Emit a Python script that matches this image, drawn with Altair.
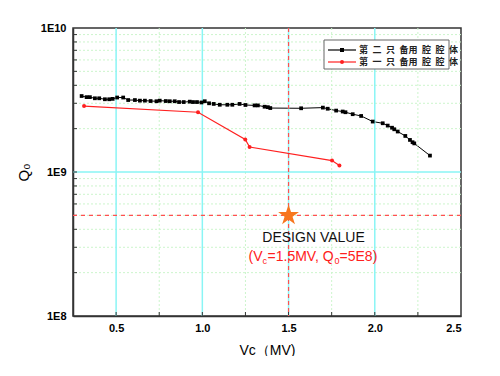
import altair as alt
import pandas as pd

# ---- data ----
vc_black = [0.300, 0.329, 0.348, 0.377, 0.402, 0.435, 0.460, 0.480, 0.506, 0.541,
            0.570, 0.609, 0.638, 0.667, 0.700, 0.734, 0.753, 0.788, 0.811, 0.840,
            0.865, 0.892, 0.927, 0.946, 0.969, 0.995, 1.014, 1.039, 1.066, 1.101,
            1.145, 1.174, 1.216, 1.250, 1.303, 1.322, 1.361, 1.380, 1.394, 1.573,
            1.699, 1.727, 1.776, 1.814, 1.830, 1.872, 1.921, 1.988, 2.046, 2.075,
            2.100, 2.113, 2.133, 2.177, 2.204, 2.219, 2.229, 2.320]
q0_black = [3.37, 3.31, 3.31, 3.25, 3.25, 3.20, 3.20, 3.22, 3.29, 3.29,
            3.16, 3.16, 3.13, 3.13, 3.11, 3.10, 3.13, 3.11, 3.10, 3.10,
            3.06, 3.06, 3.08, 3.06, 3.06, 3.04, 3.10, 3.00, 2.97, 2.93,
            2.93, 2.93, 2.97, 2.92, 2.90, 2.90, 2.84, 2.82, 2.78, 2.77,
            2.80, 2.75, 2.67, 2.63, 2.60, 2.52, 2.45, 2.24, 2.18, 2.10,
            2.03, 1.98, 1.91, 1.78, 1.67, 1.61, 1.58, 1.30]  # x 1e9
vc_red = [0.314, 0.975, 1.249, 1.274, 1.752, 1.795]
q0_red = [2.87, 2.60, 1.68, 1.49, 1.20, 1.11]  # x 1e9

series_names = ["第 二 只 备用 腔 腔 体", "第 一 只 备用 腔 腔 体"]
series_colors = ["#000000", "#ff2020"]

x_major = [0.5, 1.0, 1.5, 2.0]
x_minor = [0.75, 1.25, 1.75, 2.25]
x_labels = [0.5, 1.0, 1.5, 2.0, 2.5]
y_labels = [1e8, 1e9, 1e10]
y_major = [1e9]
y_minor = [m * d for d in (1e8, 1e9) for m in range(2, 10)]

design_vc = 1.5
design_q0 = 5e8
design_title = "DESIGN VALUE"
design_parts = ["(V", "c", "=1.5MV, Q", "0", "=5E8)"]

FONT = "Liberation Sans"
CJK = "Noto Sans CJK SC"
STAR = ("M0,-1L0.225,-0.309L0.951,-0.309L0.363,0.118L0.588,0.809L0,0.382"
        "L-0.588,0.809L-0.363,0.118L-0.951,-0.309L-0.225,-0.309Z")

df_black = pd.DataFrame({"vc": vc_black, "q": [v * 1e9 for v in q0_black],
                         "i": range(len(vc_black))})
df_red = pd.DataFrame({"vc": vc_red, "q": [v * 1e9 for v in q0_red],
                       "i": range(len(vc_red))})

xs = alt.Scale(domain=[0.25, 2.5], nice=False, zero=False)
ys = alt.Scale(type="log", domain=[1e8, 1e10], nice=False)

W, H = 388, 288

x_axis = alt.Axis(values=x_labels, format=".1f", ticks=False, grid=False,
                  labelFont=FONT, labelFontWeight="bold", labelFontSize=11,
                  labelColor="#000", labelPadding=6, titleFont=FONT,
                  titleFontSize=14, titleFontWeight="normal", titleColor="#000",
                  titlePadding=10, domainColor="#333", domainWidth=1.5)
y_axis = alt.Axis(values=y_labels, ticks=False, grid=False,
                  labelExpr="'1E' + format(round(log(datum.value)/log(10)), 'd')",
                  labelFont=FONT, labelFontWeight="bold", labelFontSize=11,
                  labelColor="#000", labelPadding=7, titleFont=FONT,
                  titleFontSize=15, titleFontWeight="normal", titleColor="#000",
                  titlePadding=9, domainColor="#333", domainWidth=1.5)


def X():
    return alt.X("vc:Q", scale=xs, title="Vc（MV)", axis=x_axis)


def Y():
    return alt.Y("q:Q", scale=ys, title="Q₀", axis=y_axis)


# grids
vgrid_minor = alt.Chart(pd.DataFrame({"vc": x_minor})).mark_rule(
    color="#ccf5cc", strokeWidth=1, strokeDash=[2, 2]).encode(x=X())
hgrid_minor = alt.Chart(pd.DataFrame({"q": y_minor})).mark_rule(
    color="#ccf5cc", strokeWidth=1, strokeDash=[2, 2]).encode(y=Y())
vgrid_major = alt.Chart(pd.DataFrame({"vc": x_major})).mark_rule(
    color="#8af5f5", strokeWidth=1.5).encode(x=X())
hgrid_major = alt.Chart(pd.DataFrame({"q": y_major})).mark_rule(
    color="#8af5f5", strokeWidth=1.5).encode(y=Y())

# inward ticks
xticks = alt.Chart(pd.DataFrame({"vc": x_major + x_minor})).mark_rule(
    color="#333333", strokeWidth=1).encode(x=X(), y=alt.value(H), y2=alt.value(H - 4))
yticks = alt.Chart(pd.DataFrame({"q": y_minor + y_major})).mark_rule(
    color="#333333", strokeWidth=1).encode(y=Y(), x=alt.value(0), x2=alt.value(4))

# design reference lines
design_df = pd.DataFrame({"vc": [design_vc], "q": [design_q0]})
hline = alt.Chart(design_df).mark_rule(
    color="#ff5050", strokeWidth=1.2, strokeDash=[4, 4]).encode(y=Y())
vline = alt.Chart(design_df).mark_rule(
    color="#ff5050", strokeWidth=1.2, strokeDash=[4, 3]).encode(x=X())

# series
black_line = alt.Chart(df_black).mark_line(color=series_colors[0], strokeWidth=1).encode(
    x=X(), y=Y(), order="i:Q")
black_pts = alt.Chart(df_black).mark_point(
    shape="square", filled=True, color=series_colors[0], size=14, opacity=1).encode(x=X(), y=Y())
red_line = alt.Chart(df_red).mark_line(color=series_colors[1], strokeWidth=1.2).encode(
    x=X(), y=Y(), order="i:Q")
red_pts = alt.Chart(df_red).mark_point(
    shape="circle", filled=True, color=series_colors[1], size=16, opacity=1).encode(x=X(), y=Y())

# design point & text
star = alt.Chart(design_df).mark_point(
    shape=STAR, filled=True, color="#f7761e", size=480, opacity=1).encode(x=X(), y=Y())
title_df = pd.DataFrame({"vc": [design_vc], "q": [design_q0], "t": [design_title]})
title_txt = alt.Chart(title_df).mark_text(
    font=FONT, fontSize=14, color="#111", align="center", baseline="middle", dx=25, dy=23
).encode(x=X(), y=Y(), text="t:N")

part_dx = [-40, -26, -21, 46, 51]
part_dy = [42, 46, 42, 46, 42]
part_size = [14, 9, 14, 9, 14]
part_layers = []
for p, dx, dy, fs in zip(design_parts, part_dx, part_dy, part_size):
    pdf = pd.DataFrame({"vc": [design_vc], "q": [design_q0], "t": [p]})
    part_layers.append(
        alt.Chart(pdf).mark_text(
            font=FONT, fontSize=fs, color="#ff2020", align="left", baseline="middle",
            dx=dx, dy=dy).encode(x=X(), y=Y(), text="t:N"))

# legend (inside the plot, top right)
one = pd.DataFrame({"a": [0]})
leg_layers = [alt.Chart(one).mark_rect(fill="white", stroke="#666", strokeWidth=1).encode(
    x=alt.value(251), x2=alt.value(376), y=alt.value(12), y2=alt.value(41))]
for name, col, shp, yy in zip(series_names, series_colors, ["square", "circle"], [22, 34]):
    d = pd.DataFrame({"t": [name.replace(" ", "\u2002")]})
    leg_layers.append(alt.Chart(d).mark_rule(color=col, strokeWidth=1.2).encode(
        x=alt.value(255), x2=alt.value(283), y=alt.value(yy)))
    leg_layers.append(alt.Chart(d).mark_point(shape=shp, filled=True, color=col,
                                              size=16, opacity=1).encode(
        x=alt.value(269), y=alt.value(yy)))
    leg_layers.append(alt.Chart(d).mark_text(font=CJK, fontSize=9, fontWeight="bold",
                                             color="#222", align="left",
                                             baseline="middle").encode(
        x=alt.value(286), y=alt.value(yy), text="t:N"))

chart = alt.layer(
    black_line, vgrid_minor, hgrid_minor, vgrid_major, hgrid_major, xticks, yticks,
    hline, vline, black_pts, red_line, red_pts, star, title_txt,
    *part_layers, *leg_layers
).properties(
    width=W, height=H,
    autosize=alt.AutoSizeParams(type="none"),
    padding={"left": 65, "top": 20, "right": 20, "bottom": 40},
    background="white",
).configure_view(stroke="#333", strokeWidth=1.5)

chart.save("out.html", embed_options={"renderer": "svg", "actions": False})
